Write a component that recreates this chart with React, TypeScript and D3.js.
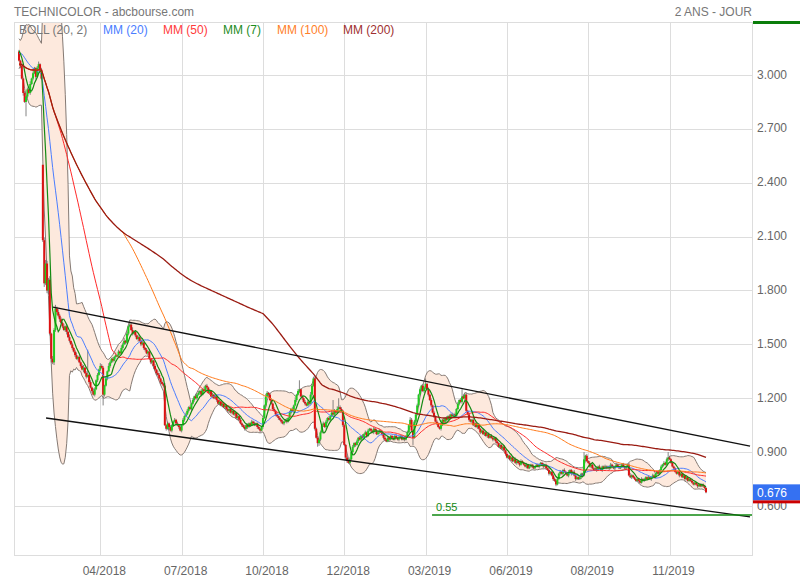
import React from "react";
import * as d3 from "d3";

// ---- DATA (daily closes) ----
// sessions before the visible window (used only by the averages)
const hiddenCloses = [
  2.82, 2.86, 2.9, 2.85, 2.88, 2.9, 3.0, 3.05, 3.1, 3.08,
  3.12, 3.15, 3.1, 3.13, 3.18, 3.14, 3.1, 3.12, 3.15, 3.17,
  3.14, 3.12, 3.15, 3.16, 3.13,
];

const closes = [
  3.08, 3.05, 2.98, 2.9, 2.85, 2.88, 2.92, 2.9, 2.95, 2.98,
  3.01, 3.04, 2.99, 3.04, 3.06, 3.03, 2.98, 2.08, 1.84, 1.95,
  1.8, 1.86, 1.56, 1.42, 1.4, 1.58, 1.7, 1.68, 1.66, 1.64,
  1.62, 1.6, 1.58, 1.6, 1.57, 1.54, 1.52, 1.5, 1.48, 1.46,
  1.44, 1.42, 1.43, 1.4, 1.38, 1.36, 1.37, 1.34, 1.32, 1.33,
  1.29, 1.26, 1.24, 1.22, 1.25, 1.3, 1.33, 1.36, 1.38, 1.37,
  1.22, 1.27, 1.31, 1.35, 1.38, 1.4, 1.42, 1.41, 1.43, 1.44,
  1.44, 1.46, 1.45, 1.48, 1.5, 1.52, 1.51, 1.56, 1.6, 1.61,
  1.58, 1.56, 1.57, 1.55, 1.53, 1.54, 1.52, 1.5, 1.51, 1.48,
  1.47, 1.45, 1.46, 1.42, 1.4, 1.41, 1.38, 1.36, 1.34, 1.33,
  1.31, 1.29, 1.28, 1.27, 1.05, 1.03, 1.06, 1.04, 1.02, 1.05,
  1.07, 1.08, 1.06, 1.05, 1.04, 1.02, 1.05, 1.08, 1.1, 1.11,
  1.13, 1.15, 1.14, 1.17, 1.19, 1.21, 1.2, 1.22, 1.23, 1.24,
  1.22, 1.25, 1.24, 1.27, 1.26, 1.23, 1.24, 1.21, 1.22, 1.2,
  1.21, 1.19, 1.17, 1.18, 1.16, 1.17, 1.15, 1.16, 1.14, 1.13,
  1.14, 1.12, 1.13, 1.11, 1.12, 1.09, 1.1, 1.08, 1.06, 1.05,
  1.04, 1.03, 1.05, 1.04, 1.06, 1.05, 1.07, 1.06, 1.05, 1.06,
  1.04, 1.03, 1.02, 1.04, 1.09, 1.16, 1.21, 1.23, 1.22, 1.19,
  1.17, 1.14, 1.13, 1.11, 1.1, 1.09, 1.08, 1.07, 1.06, 1.07,
  1.08, 1.07, 1.09, 1.12, 1.14, 1.13, 1.16, 1.19, 1.22, 1.24,
  1.25, 1.21, 1.2, 1.18, 1.17, 1.16, 1.18, 1.17, 1.22, 1.27,
  1.31, 1.03, 0.98, 0.95, 0.97, 1.01, 1.05, 1.06, 1.04, 1.07,
  1.09, 1.08, 1.1, 1.12, 1.11, 1.13, 1.12, 1.14, 1.15, 1.14,
  1.13, 1.05, 0.94, 0.87, 0.85, 0.84, 0.86, 0.9, 0.93, 0.95,
  0.94, 0.96, 0.98, 0.97, 0.99, 0.98, 1.0, 1.01, 0.99, 1.02,
  1.03, 1.02, 1.01, 1.03, 1.02, 1.0, 1.01, 1.02, 1.01, 1.0,
  0.98, 0.97, 0.96, 0.98, 0.97, 0.99, 0.98, 0.97, 0.99, 0.98,
  0.97, 0.98, 0.99, 0.97, 0.98, 0.97, 0.99, 1.01, 1.05, 1.08,
  1.02, 0.98, 1.07, 1.11, 1.16, 1.22, 1.25, 1.27, 1.24, 1.26,
  1.28, 1.25, 1.22, 1.19, 1.16, 1.12, 1.1, 1.07, 1.06, 1.04,
  1.03, 1.05, 1.08, 1.07, 1.09, 1.08, 1.1, 1.09, 1.11, 1.1,
  1.11, 1.1, 1.14, 1.17, 1.19, 1.18, 1.21, 1.2, 1.22, 1.13,
  1.11, 1.08, 1.07, 1.08, 1.05, 1.06, 1.04, 1.05, 1.03, 1.01,
  1.02, 1.0, 1.01, 0.99, 1.0, 0.98, 0.99, 0.98, 0.97, 0.98,
  0.96, 0.95, 0.93, 0.94, 0.92, 0.93, 0.91, 0.89, 0.87, 0.88,
  0.86, 0.87, 0.85, 0.86, 0.84, 0.85, 0.84, 0.83, 0.85, 0.84,
  0.83, 0.82, 0.83, 0.81, 0.82, 0.83, 0.82, 0.81, 0.82, 0.83,
  0.82, 0.83, 0.84, 0.83, 0.82, 0.83, 0.81, 0.8, 0.78, 0.79,
  0.77, 0.75, 0.74, 0.72, 0.75, 0.78, 0.79, 0.78, 0.8, 0.79,
  0.78, 0.77, 0.79, 0.8, 0.78, 0.79, 0.77, 0.75, 0.76, 0.75,
  0.76, 0.78, 0.77, 0.86, 0.88, 0.85, 0.84, 0.82, 0.83, 0.81,
  0.8, 0.81, 0.8, 0.82, 0.81, 0.8, 0.82, 0.81, 0.82, 0.81,
  0.82, 0.81, 0.83, 0.82, 0.81, 0.82, 0.83, 0.82, 0.81, 0.82,
  0.83, 0.82, 0.81, 0.82, 0.83, 0.77, 0.76, 0.77, 0.76, 0.75,
  0.74, 0.75, 0.74, 0.73, 0.75, 0.74, 0.75, 0.76, 0.75, 0.76,
  0.75, 0.76, 0.77, 0.76, 0.78, 0.79, 0.78, 0.8, 0.82, 0.83,
  0.84, 0.83, 0.86, 0.87, 0.86, 0.84, 0.82, 0.81, 0.79, 0.78,
  0.79, 0.77, 0.78, 0.76, 0.77, 0.75, 0.76, 0.74, 0.75, 0.74,
  0.73, 0.72, 0.73, 0.72, 0.71, 0.72, 0.71, 0.72, 0.71, 0.7,
  0.676,
];

// sessions that opened away from the previous close: [session, open]
const gapOpens: [number, number][] = [[17, 2.5]];
// notable shadows: [session, high] / [session, low]
const spikeHighs: [number, number][] = [
  [49, 1.47], [200, 1.3], [224, 1.19], [228, 1.2], [290, 1.31], [316, 1.25], [403, 0.9], [463, 0.9],
];
const spikeLows: [number, number][] = [[5, 2.77], [60, 1.16], [213, 0.93], [281, 0.94]];
// ordinary shadow lengths, one digit per session (x 0.005)
const wickUp = [
  "2130212031", "2102312034", "3241324232", "2131213021", "2312123122", "1213212132", "2121321213",
  "1213231212", "2312121321", "1213121213", "2121312121", "1212131212", "2121213121", "2131212121",
  "1212131212", "1211212121", "1212112121", "1211213212", "2121212121", "1212121312", "2121212132",
  "2312121212", "1213121312", "2121212121", "1212121212", "1112121211", "1212111212", "1211121213",
  "2121212121", "2121212121", "1212121212", "1212121212", "1211212121", "1211121211", "1212112121",
  "1111211121", "1121111211", "1111211121", "1211212112", "1121112111", "1112121211", "1211211121",
  "1121112111", "1211121111", "1111211112", "1121112121", "2121211111", "1111211111", "1111111111", "1",
].join("");
const wickDown = [
  "1213102121", "2131211242", "3424232323", "1212312121", "2121213121", "2121212121", "1212121212",
  "2121212121", "1212131212", "2121213121", "1212121312", "2121212121", "1212121212", "2121212121",
  "1212121212", "2121212112", "1212121211", "2121212121", "1212121212", "1211212121", "2121211212",
  "1212321212", "2121212121", "1213212121", "2121212121", "1212111212", "2111212111", "1211121212",
  "1212121212", "2121212121", "1212121212", "2121212121", "1212121212", "1121211121", "2112121211",
  "1211121211", "1121112111", "1211211121", "1212112121", "1121211211", "1211211121", "1121112111",
  "1211121111", "1112111211", "1121111211", "1211121111", "1112111211", "1211121111", "1111211111", "1",
].join("");

const xTickSessions = [58, 116, 174, 232, 290, 348, 406, 464];
const xTickLabels = ["04/2018", "07/2018", "10/2018", "12/2018", "03/2019", "06/2019", "08/2019", "11/2019"];
const yTicks = [3.0, 2.7, 2.4, 2.1, 1.8, 1.5, 1.2, 0.9, 0.6];

// channel lines drawn on the chart: [session, value]
const upperChannel: [number, number][] = [[24.3, 1.708], [521.4, 0.934]];
const lowerChannel: [number, number][] = [[19.3, 1.09], [521.4, 0.539]];
const supportLevel = 0.55;
const supportStart = 294.6;

const maPeriods = [20, 50, 7, 100, 200];
const legendLabels = ["BOLL (20, 2)", "MM (20)", "MM (50)", "MM (7)", "MM (100)", "MM (200)"];

export default function App() {
  const W = 800, H = 580;
  const L = 14, R = 752, T = 22, B = 556;
  const FONT = "'Liberation Sans', Arial, sans-serif";
  const x = d3.scaleLinear().domain([-3.57, 522.8]).range([L, R]);
  const y = d3.scaleLinear().domain([0.6, 3.0]).range([506, 75]);

  const full = [...hiddenCloses, ...closes];
  const off = hiddenCloses.length;
  const sma = (n: number) =>
    closes.map((_, i) => {
      const j = i + off;
      return d3.mean(full.slice(Math.max(0, j - n + 1), j + 1)) as number;
    });
  const boll = closes.map((_, i) => {
    const j = i + off;
    const w = full.slice(Math.max(0, j - 19), j + 1);
    const m = d3.mean(w) as number;
    const sd = Math.sqrt(d3.mean(w, (v) => (v - m) ** 2) as number);
    return { m, u: m + 2 * sd, l: m - 2 * sd };
  });

  const gapMap = new Map(gapOpens);
  const hiMap = new Map(spikeHighs);
  const loMap = new Map(spikeLows);
  const candles = closes.map((c, i) => {
    const prev = i === 0 ? hiddenCloses[hiddenCloses.length - 1] : closes[i - 1];
    const o = gapMap.has(i) ? (gapMap.get(i) as number) : prev;
    const hi = hiMap.has(i) ? (hiMap.get(i) as number) : Math.max(o, c) + (+wickUp[i] || 0) * 0.005;
    const lo = loMap.has(i) ? (loMap.get(i) as number) : Math.min(o, c) - (+wickDown[i] || 0) * 0.005;
    return { i, o, c, hi, lo };
  });

  const area = d3
    .area<{ m: number; u: number; l: number }>()
    .x((_, i) => x(i))
    .y0((d) => y(d.l))
    .y1((d) => y(d.u));
  const lineOf = (vals: number[]) =>
    d3
      .line<number>()
      .x((_, i) => x(i))
      .y((d) => y(d))(vals) as string;

  const maColors: Record<number, string> = {
    20: "#4a7dff",
    50: "#ff2a2a",
    7: "#138a13",
    100: "#ff7a1a",
    200: "#9a1b12",
  };
  const legendColors = ["#777", "#4a7dff", "#ff3b3b", "#1e8c1e", "#ff7f2a", "#a03030"];
  const legendX = [19, 103, 163, 223, 277, 343];
  const last = closes[closes.length - 1];

  return (
    <svg width={W} height={H} style={{ display: "block", position: "absolute", left: 0, top: 0, background: "#fff" }} fontFamily={FONT}>
      <defs>
        <clipPath id="plotClip">
          <rect x={L} y={T} width={R - L} height={B - T} />
        </clipPath>
      </defs>
      <rect x={0} y={0} width={W} height={H} fill="#fff" />
      {/* grid */}
      {yTicks.map((v) => (
        <line key={"gy" + v} x1={L} x2={R} y1={Math.round(y(v)) + 0.5} y2={Math.round(y(v)) + 0.5} stroke="#dddddd" />
      ))}
      {xTickSessions.map((s) => (
        <line key={"gx" + s} x1={Math.round(x(s)) + 0.5} x2={Math.round(x(s)) + 0.5} y1={T} y2={B} stroke="#dddddd" />
      ))}
      <g clipPath="url(#plotClip)">
        <path d={area(boll) as string} fill="#fde9dd" />
        <path d={lineOf(boll.map((d) => d.u))} fill="none" stroke="#857a74" strokeWidth={1} />
        <path d={lineOf(boll.map((d) => d.l))} fill="none" stroke="#857a74" strokeWidth={1} />
        {candles.map((d) => (
          <line key={"w" + d.i} x1={x(d.i)} x2={x(d.i)} y1={y(d.hi)} y2={y(d.lo)} stroke="#666" strokeWidth={0.8} />
        ))}
        {candles.map((d) => {
          const top = y(Math.max(d.o, d.c));
          const h = Math.max(1.2, Math.abs(y(d.o) - y(d.c)));
          return (
            <rect
              key={"b" + d.i}
              x={x(d.i) - 1}
              y={top}
              width={2}
              height={h}
              fill={d.c >= d.o ? "#1fcc1f" : "#dd1111"}
            />
          );
        })}
        {maPeriods.map((n) => (
          <path
            key={"ma" + n}
            d={lineOf(sma(n))}
            fill="none"
            stroke={maColors[n]}
            strokeWidth={n === 200 ? 1.3 : n === 7 ? 1.2 : 1}
          />
        ))}
        {[upperChannel, lowerChannel].map((seg, k) => (
          <line
            key={"ch" + k}
            x1={x(seg[0][0])}
            y1={y(seg[0][1])}
            x2={x(seg[1][0])}
            y2={y(seg[1][1])}
            stroke="#111"
            strokeWidth={1.3}
          />
        ))}
        <line x1={x(supportStart)} x2={R} y1={y(supportLevel)} y2={y(supportLevel)} stroke="#118811" strokeWidth={1.3} />
        <text x={x(supportStart) + 4} y={y(supportLevel) - 4} fontSize={11} fill="#118811">
          {supportLevel.toFixed(2)}
        </text>
      </g>
      {/* frame */}
      <rect x={L + 0.5} y={T + 0.5} width={R - L} height={B - T - 1} fill="none" stroke="#dddddd" />
      {/* titles */}
      <text x={L} y={16} fontSize={12} fill="#777">TECHNICOLOR - abcbourse.com</text>
      <text x={R} y={16} fontSize={12} fill="#777" textAnchor="end">2 ANS - JOUR</text>
      {legendLabels.map((t, k) => (
        <text key={"lg" + k} x={legendX[k]} y={34} fontSize={12} fill={legendColors[k]}>
          {t}
        </text>
      ))}
      {/* axes labels */}
      {yTicks.map((v) => (
        <text key={"yl" + v} x={757} y={y(v) + 3.5} fontSize={12} fill="#666">
          {v.toFixed(3)}
        </text>
      ))}
      {xTickSessions.map((s, k) => (
        <text key={"xl" + s} x={x(s) + 4} y={575} fontSize={12} fill="#666" textAnchor="middle">
          {xTickLabels[k]}
        </text>
      ))}
      {/* markers on the right */}
      <rect x={753} y={21} width={47} height={3} fill="#0a7d0a" />
      <rect x={753} y={y(last) - 8} width={47} height={16} fill="#3571f2" />
      <rect x={753} y={y(last) + 8} width={47} height={3} fill="#cc0000" />
      <text x={757} y={y(last) + 4.5} fontSize={12} fill="#fff">
        {last.toFixed(3)}
      </text>
    </svg>
  );
}
